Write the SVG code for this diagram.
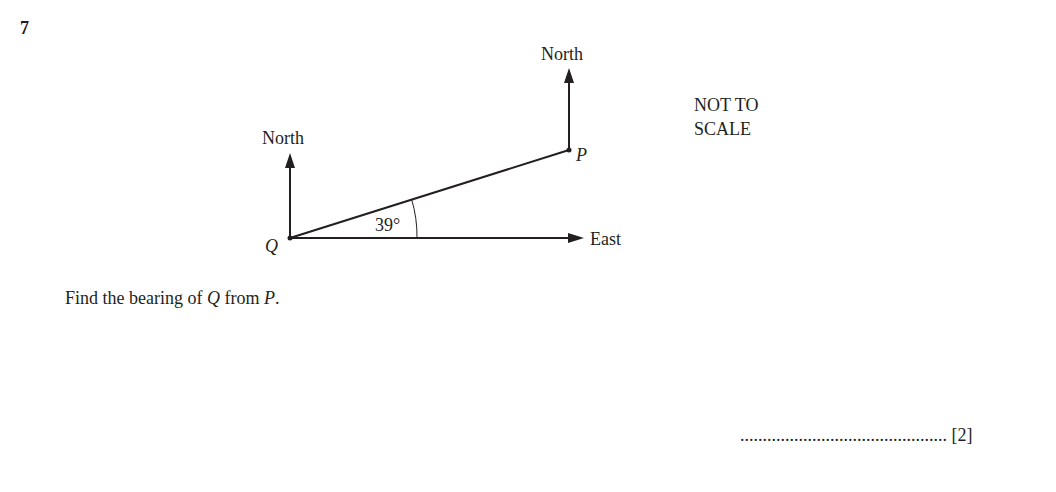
<svg xmlns="http://www.w3.org/2000/svg" width="1056" height="492" viewBox="0 0 1056 492">
<style>
text{font-family:"Liberation Serif",serif;font-size:18px;fill:#231f20}
.l{stroke:#231f20;stroke-width:2;fill:none}
.a{fill:#231f20}
</style>
<rect width="1056" height="492" fill="#fff"/>
<text x="20" y="34" font-weight="bold">7</text>
<g id="connectors">
<line class="l" x1="290" y1="238" x2="290" y2="166"/>
<path class="a" d="M290,153 L285,168 L295,168 Z"/>
<line class="l" x1="569" y1="150" x2="569" y2="82"/>
<path class="a" d="M569,68 L564,83 L574,83 Z"/>
<line class="l" x1="290" y1="238" x2="570" y2="238"/>
<path class="a" d="M584,238 L568,233 L568,243 Z"/>
<line class="l" x1="290" y1="238" x2="569" y2="150"/>
<path d="M417,238 A127,127 0 0 0 411.5,199" stroke="#231f20" stroke-width="1" fill="none"/>
</g>
<g id="Q"><circle cx="290" cy="238" r="2.5" class="a"/><text x="265" y="252" font-style="italic">Q</text></g>
<g id="P"><circle cx="569" cy="150" r="2.5" class="a"/><text x="576" y="161" font-style="italic">P</text></g>
<g id="labels">
<text x="262" y="144">North</text>
<text x="541" y="60">North</text>
<text x="590" y="245">East</text>
<text x="375" y="231">39°</text>
<text x="694" y="111">NOT TO</text>
<text x="694" y="135">SCALE</text>
<text x="65" y="304">Find the bearing of <tspan font-style="italic">Q</tspan> from <tspan font-style="italic">P</tspan>.</text>
<text x="740" y="441">.............................................. [2]</text>
</g>
</svg>
